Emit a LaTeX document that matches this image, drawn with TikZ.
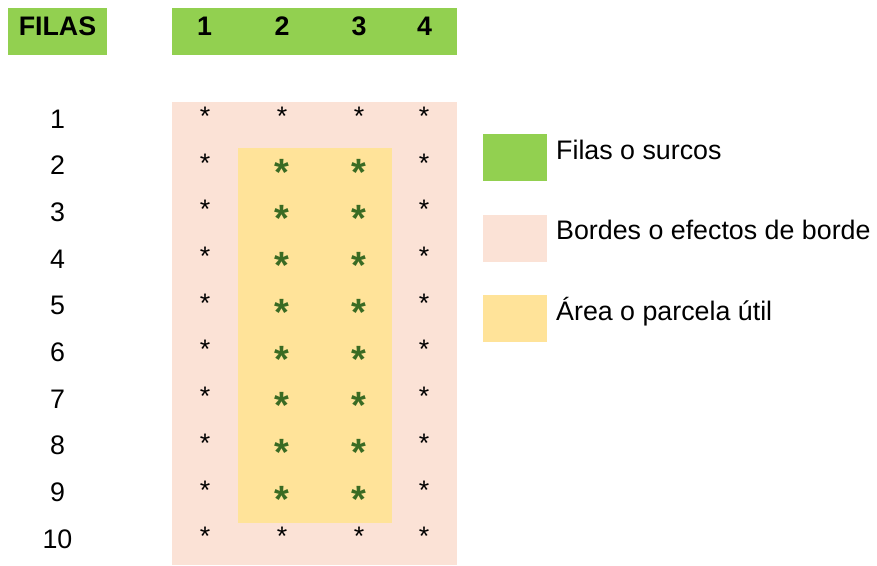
\documentclass[tikz,border=0pt]{standalone}
\usepackage{fontspec}
\setmainfont{Liberation Sans}
\definecolor{hdrgreen}{HTML}{92D050}
\definecolor{borderpink}{HTML}{FBE2D6}
\definecolor{usefulyellow}{HTML}{FFE399}
\definecolor{astgreen}{HTML}{3A6B23}
\begin{document}
\begin{tikzpicture}[x=1pt,y=-1pt,
  lab/.style={font=\fontsize{26.8}{30}\selectfont, inner sep=0pt, anchor=base},
  legtxt/.style={font=\fontsize{26.8}{30}\selectfont, inner sep=0pt, anchor=base west},
  hdr/.style={font=\fontsize{26.8}{30}\selectfont\bfseries, inner sep=0pt, anchor=base},
  bast/.style={font=\fontsize{26.8}{30}\selectfont, inner sep=0pt, anchor=north},
  gast/.style={font=\fontsize{38}{42}\selectfont\bfseries, text=astgreen, inner sep=0pt, anchor=north}]
\useasboundingbox (0,0) rectangle (877,565);
% header boxes
\fill[hdrgreen] (8,8) rectangle (107,55);
\fill[hdrgreen] (172,8) rectangle (457,55);
\node[hdr] (hfilas) at (57.5,35) {FILAS};
\node[hdr] (hc1) at (204.5,35) {1};
\node[hdr] (hc2) at (282,35) {2};
\node[hdr] (hc3) at (359,35) {3};
\node[hdr] (hc4) at (424.5,35) {4};
% field
\fill[borderpink] (172,102) rectangle (457,565);
\fill[usefulyellow] (238,148) rectangle (392,523);
% rows
\foreach \r in {1,...,10}{
  \pgfmathsetmacro{\yb}{128+(\r-1)*46.67}
  \node[lab] (row\r) at (57.5,\yb) {\r};
  \node[bast] (a\r c1) at (205,\yb-21) {*};
  \node[bast] (a\r c4) at (424,\yb-21) {*};
}
\foreach \r in {1,10}{
  \pgfmathsetmacro{\yb}{128+(\r-1)*46.67}
  \node[bast] (a\r c2) at (282,\yb-21) {*};
  \node[bast] (a\r c3) at (359,\yb-21) {*};
}
\foreach \r in {2,...,9}{
  \pgfmathsetmacro{\yb}{128+(\r-1)*46.67}
  \node[gast] (a\r c2) at (282,\yb-15.7) {*};
  \node[gast] (a\r c3) at (359,\yb-15.7) {*};
}
% legend
\fill[hdrgreen] (483,134) rectangle (547,181);
\fill[borderpink] (483,215) rectangle (547,262);
\fill[usefulyellow] (483,295) rectangle (547,342);
\node[legtxt] (l1) at (556,159) {Filas o surcos};
\node[legtxt] (l2) at (556,239.5) {Bordes o efectos de borde};
\node[legtxt] (l3) at (556,320) {Área o parcela útil};
\end{tikzpicture}
\end{document}
